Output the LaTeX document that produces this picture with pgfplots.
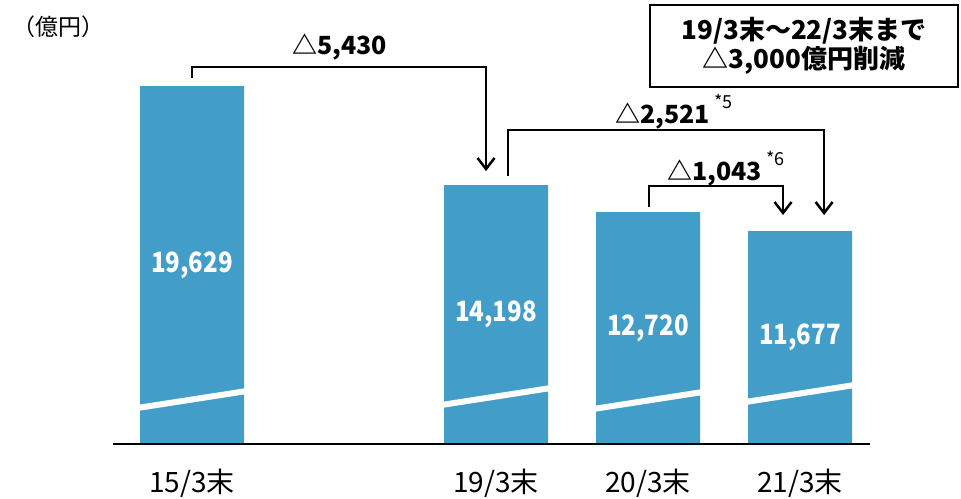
\documentclass[border=0pt]{standalone}
\usepackage{fontspec}
\setmainfont{Noto Sans CJK JP}
\usepackage{graphicx}
\usepackage{pgfplots}
\pgfplotsset{compat=1.18}
\usetikzlibrary{arrows.meta}
\definecolor{barblue}{HTML}{429DC9}
\newcommand{\nx}[1]{\scalebox{0.86}[1]{#1}}
\begin{document}
\begin{tikzpicture}
\useasboundingbox (0,0) rectangle (961pt,498pt);
\begin{axis}[
 at={(113pt,54pt)}, anchor=south west,
 scale only axis, width=757pt, height=383pt,
 xmin=-0.52, xmax=4.46, ymin=0, ymax=21000,
 axis line style={draw=none},
 ytick=\empty,
 xtick={0,2,3,4},
 xticklabels={15/3末,19/3末,20/3末,21/3末},
 major tick length=0pt,
 xticklabel style={font=\fontsize{28}{28}\selectfont, anchor=base, yshift=-48pt},
 ybar, bar width=104pt, bar shift=0pt,
 clip=false,
]
\addplot[fill=barblue, draw=none] coordinates {(0,19629) (2,14198) (3,12720) (4,11677)};
% axis break marks
\draw[white, line width=6pt] (axis cs:-0.36,1974) -- (axis cs:0.36,2906);
\draw[white, line width=6pt] (axis cs:1.64,2138) -- (axis cs:2.36,3070);
\draw[white, line width=6pt] (axis cs:2.64,1919) -- (axis cs:3.36,2851);
\draw[white, line width=6pt] (axis cs:3.64,2303) -- (axis cs:4.36,3235);
% baseline
\draw[line width=2pt] (axis cs:-0.52,0) -- (axis cs:4.46,0);
% value labels
\begin{scope}[every node/.style={text=white, font=\fontsize{28}{28}\selectfont\bfseries}]
\node at (axis cs:0,9815) {\nx{19,629}};
\node at (axis cs:2,7099) {\nx{14,198}};
\node at (axis cs:3,6360) {\nx{12,720}};
\node at (axis cs:4,5839) {\nx{11,677}};
\end{scope}
% brackets
\draw[line width=2.5pt, -{Straight Barb[length=11pt, width=17pt]}] (axis cs:0,20068) |- (axis cs:1.934,20671) -- (axis cs:1.934,14966);
\draw[line width=2.5pt, -{Straight Barb[length=11pt, width=17pt]}] (axis cs:2.079,14691) |- (axis cs:4.158,17217) -- (axis cs:4.158,12554);
\draw[line width=2.5pt, -{Straight Barb[length=11pt, width=17pt]}] (axis cs:3.006,13020) |- (axis cs:3.888,14146) -- (axis cs:3.888,12554);
\begin{scope}[every node/.style={anchor=base west, inner sep=0pt, font=\fontsize{25}{25}\selectfont\bfseries}]
\node at (axis cs:0.658,21329) {△5,430};
\node at (axis cs:2.783,17600) {△2,521\,\raisebox{15pt}{\fontsize{18}{18}\selectfont\mdseries *5}};
\node at (axis cs:3.125,14475) {△1,043\,\raisebox{15pt}{\fontsize{18}{18}\selectfont\mdseries *6}};
\end{scope}
\end{axis}
\node[anchor=north west, inner sep=0pt, font=\fontsize{23}{23}\selectfont] at (12pt,482pt) {（億円）};
\node[draw, line width=1.5pt, minimum width=308pt, minimum height=82pt, align=center, inner sep=0pt, font=\fontsize{26}{29}\selectfont\bfseries] at (804pt,452pt) {19/3末～22/3末まで\\△3,000億円削減};
\end{tikzpicture}
\end{document}
